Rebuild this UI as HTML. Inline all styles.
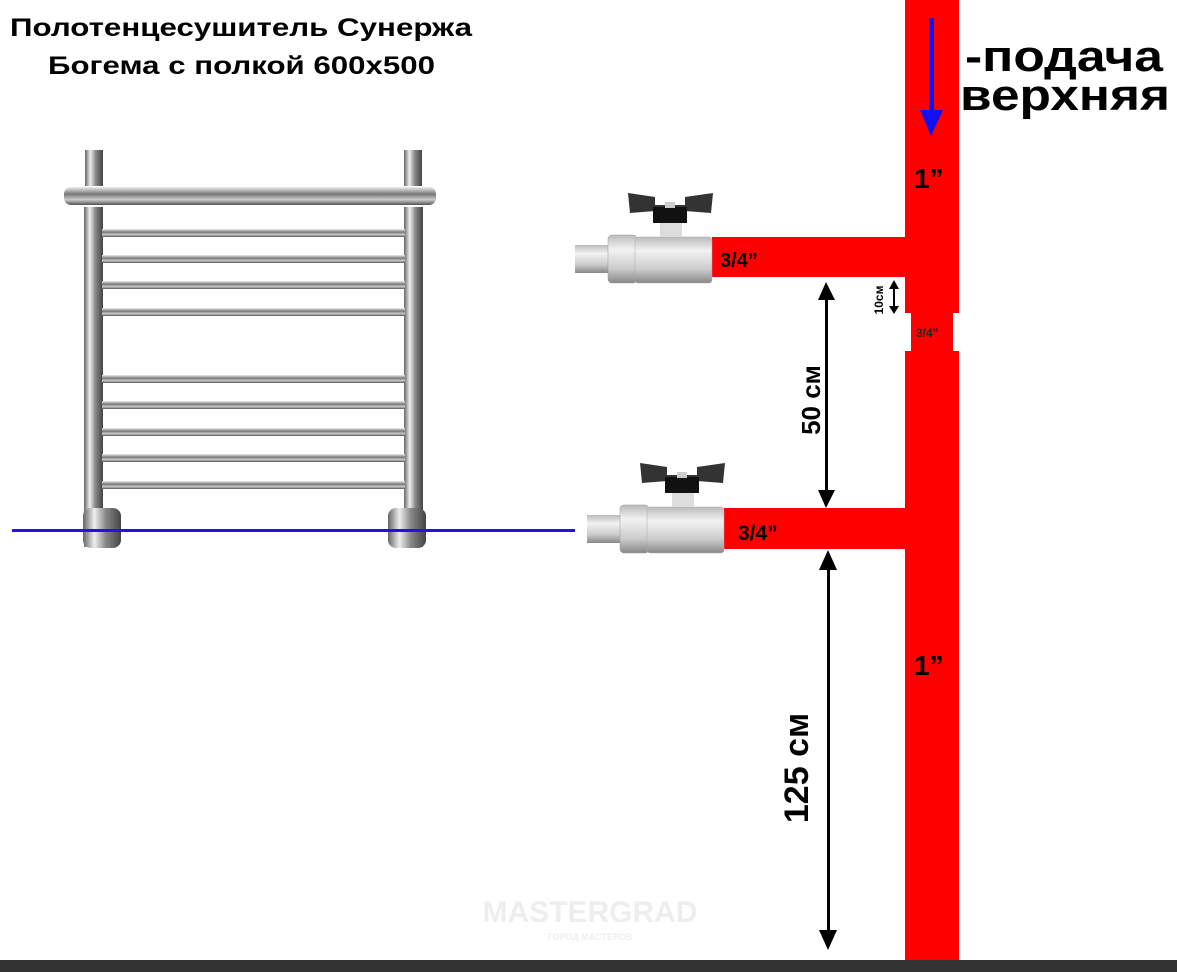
<!DOCTYPE html>
<html><head><meta charset="utf-8"><style>
html,body{margin:0;padding:0;background:#fff;}
svg{display:block;}
text{font-family:"Liberation Sans",sans-serif;font-weight:bold;}
</style></head><body>
<svg width="1177" height="972" viewBox="0 0 1177 972" xmlns="http://www.w3.org/2000/svg">
<defs>
<linearGradient id="vch" x1="0" x2="1" y1="0" y2="0">
<stop offset="0" stop-color="#666"/><stop offset="0.3" stop-color="#eee"/><stop offset="0.6" stop-color="#888"/><stop offset="1" stop-color="#444"/></linearGradient>
<linearGradient id="hch" x1="0" x2="0" y1="0" y2="1">
<stop offset="0" stop-color="#eee"/><stop offset="0.4" stop-color="#777"/><stop offset="0.7" stop-color="#ccc"/><stop offset="1" stop-color="#555"/></linearGradient>
<linearGradient id="brass" x1="0" x2="0" y1="0" y2="1">
<stop offset="0" stop-color="#bbb"/><stop offset="0.3" stop-color="#f2f2f2"/><stop offset="0.7" stop-color="#ccc"/><stop offset="1" stop-color="#888"/></linearGradient>
<g id="valve">
<rect x="0" y="10" width="34" height="28" fill="url(#brass)"/>
<rect x="33" y="0" width="29" height="48" rx="4" fill="url(#brass)" stroke="#999" stroke-width="0.5"/>
<rect x="60" y="2" width="77" height="46" rx="3" fill="url(#brass)" stroke="#aaa" stroke-width="0.5"/>
<path d="M53 -42 L80 -38 L80 -30 L110 -30 L110 -38 L138 -42 L136 -22 L110 -24 L80 -24 L55 -22 Z" fill="#333"/>
<rect x="78" y="-28" width="34" height="16" fill="#111"/>
<rect x="90" y="-33" width="10" height="6" fill="#ccc"/>
<rect x="85" y="-12" width="22" height="14" fill="#ddd"/>
</g>
</defs>
<text x="10" y="36" font-size="25" textLength="462" lengthAdjust="spacingAndGlyphs">Полотенцесушитель Сунержа</text>
<text x="48" y="74" font-size="25" textLength="387" lengthAdjust="spacingAndGlyphs">Богема с полкой 600х500</text>

<rect x="85" y="150" width="18" height="36" fill="url(#vch)"/>
<rect x="404" y="150" width="18" height="36" fill="url(#vch)"/>
<rect x="84" y="207" width="19" height="340" fill="url(#vch)"/>
<rect x="404" y="207" width="19" height="340" fill="url(#vch)"/>
<rect x="64" y="187" width="372" height="18" rx="7" fill="url(#hch)"/>
<g fill="url(#hch)">
<rect x="102" y="229" width="303" height="8"/><rect x="102" y="255" width="303" height="8"/>
<rect x="102" y="281" width="303" height="8"/><rect x="102" y="308" width="303" height="8"/>
<rect x="102" y="375" width="303" height="8"/><rect x="102" y="401" width="303" height="8"/>
<rect x="102" y="428" width="303" height="8"/><rect x="102" y="454" width="303" height="8"/>
<rect x="102" y="481" width="303" height="8"/>
</g>
<rect x="83" y="508" width="38" height="40" rx="8" fill="url(#vch)"/>
<rect x="388" y="508" width="38" height="40" rx="8" fill="url(#vch)"/>
<rect x="12" y="529" width="563" height="3" fill="#2a10e0"/>

<rect x="905" y="0" width="54" height="313" fill="#ff0000"/>
<rect x="911" y="313" width="42" height="38" fill="#ff0000"/>
<rect x="905" y="351" width="54" height="610" fill="#ff0000"/>
<rect x="712" y="237" width="195" height="40" fill="#ff0000"/>
<rect x="724" y="508" width="183" height="41" fill="#ff0000"/>

<use href="#valve" x="575" y="235"/>
<use href="#valve" x="587" y="505"/>

<text x="720" y="267" font-size="20">3/4”</text>
<text x="738" y="540" font-size="21">3/4”</text>
<text x="916" y="337" font-size="12" fill="#222">3/4”</text>
<text x="914" y="188" font-size="28">1”</text>
<text x="914" y="675" font-size="28">1”</text>
<text x="965" y="71" font-size="44" textLength="198" lengthAdjust="spacingAndGlyphs">-подача</text>
<text x="960" y="110" font-size="44" textLength="210" lengthAdjust="spacingAndGlyphs">верхняя</text>

<rect x="929" y="18" width="5" height="100" fill="#1010f0"/>
<path d="M920 110 L943 110 L931 136 Z" fill="#1010f0"/>

<g fill="#000">
<rect x="825" y="295" width="3" height="200"/>
<path d="M818 300 L835 300 L826 282 Z"/><path d="M818 490 L835 490 L826 508 Z"/>
<rect x="827" y="565" width="3" height="370"/>
<path d="M819 570 L837 570 L828 550 Z"/><path d="M819 930 L837 930 L828 950 Z"/>
<rect x="893" y="285" width="2" height="24"/>
<path d="M889 289 L899 289 L894 280 Z"/><path d="M889 306 L899 306 L894 314 Z"/>
</g>
<text transform="translate(820,400) rotate(-90)" font-size="26" text-anchor="middle">50 см</text>
<text transform="translate(808,768) rotate(-90)" font-size="34" text-anchor="middle">125 см</text>
<text transform="translate(883,300) rotate(-90)" font-size="12" text-anchor="middle">10см</text>

<text x="590" y="922" font-size="30" fill="#eee" text-anchor="middle">MASTERGRAD</text>
<text x="590" y="940" font-size="9" fill="#eee" text-anchor="middle">ГОРОД МАСТЕРОВ</text>
<rect x="0" y="960" width="1177" height="12" fill="#333"/>
</svg>
</body></html>
